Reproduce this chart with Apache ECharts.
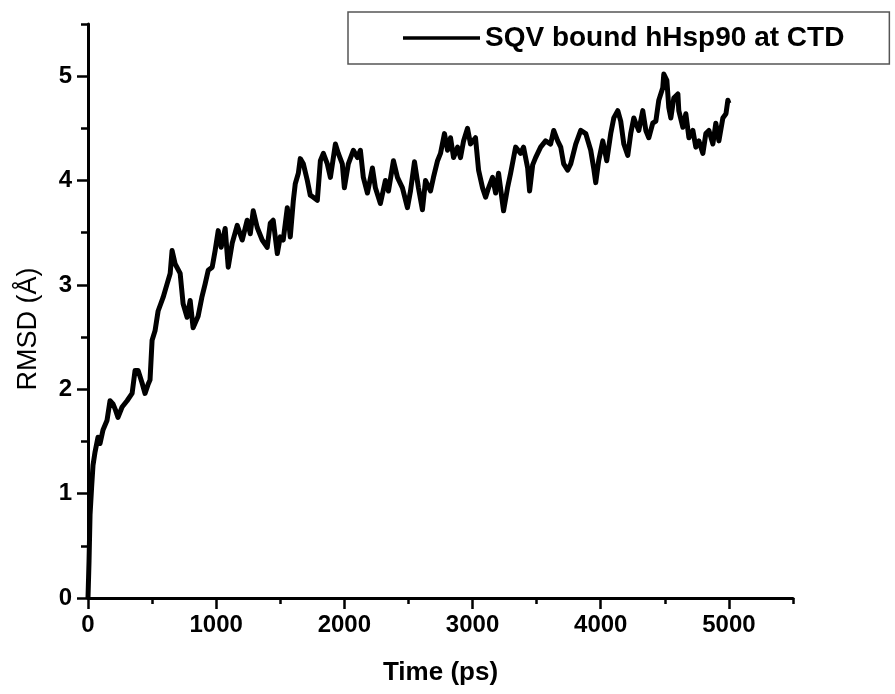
<!DOCTYPE html>
<html>
<head>
<meta charset="utf-8">
<title>RMSD of SQV bound hHsp90 at CTD</title>
<script src="https://cdn.jsdelivr.net/npm/echarts@6/dist/echarts.min.js"></script>
<style>
  html, body { margin: 0; padding: 0; background: #ffffff; }
  #chart { width: 895px; height: 694px; }
</style>
</head>
<body>
<div id="chart"></div>
<script>
// Simulation time (ps) of each sampled frame
const timePs = [
  0, 8, 16, 29, 39, 55, 78, 94, 117, 148, 172, 195, 215, 234, 266, 305, 344, 367, 391, 422,
  445, 470, 484, 500, 523, 547, 586, 617, 641, 656, 680, 719, 742, 773, 797, 820, 859, 888, 914, 938,
  969, 992, 1016, 1039, 1070, 1094, 1125, 1164, 1203, 1242, 1266, 1289, 1320, 1359, 1398, 1422, 1445, 1477, 1500, 1523,
  1555, 1578, 1602, 1617, 1641, 1656, 1680, 1711, 1734, 1758, 1789, 1813, 1836, 1867, 1891, 1930, 1953, 1984, 2000, 2031,
  2070, 2102, 2125, 2148, 2180, 2219, 2242, 2281, 2320, 2344, 2383, 2414, 2453, 2492, 2516, 2547, 2578, 2609, 2633, 2672,
  2695, 2727, 2750, 2781, 2805, 2828, 2852, 2883, 2906, 2930, 2961, 2984, 3023, 3047, 3078, 3102, 3125, 3156, 3180, 3203,
  3242, 3273, 3297, 3336, 3375, 3398, 3430, 3445, 3469, 3492, 3531, 3570, 3609, 3633, 3664, 3688, 3711, 3742, 3766, 3805,
  3844, 3883, 3922, 3945, 3961, 3984, 4016, 4047, 4078, 4102, 4133, 4156, 4180, 4211, 4234, 4258, 4273, 4297, 4328, 4352,
  4375, 4406, 4430, 4453, 4484, 4492, 4516, 4531, 4547, 4570, 4602, 4609, 4641, 4664, 4688, 4719, 4742, 4766, 4797, 4820,
  4844, 4875, 4898, 4922, 4953, 4977, 4992, 5000
];

// Backbone RMSD (Å) at each frame
const rmsd = [
  0.00, 0.35, 0.80, 1.08, 1.27, 1.40, 1.54, 1.48, 1.61, 1.70, 1.89, 1.86, 1.80, 1.73, 1.83, 1.89, 1.96, 2.18, 2.18, 2.06,
  1.96, 2.05, 2.09, 2.47, 2.56, 2.75, 2.88, 3.01, 3.11, 3.33, 3.20, 3.11, 2.82, 2.69, 2.85, 2.59, 2.70, 2.88, 3.01, 3.14,
  3.17, 3.33, 3.52, 3.36, 3.54, 3.17, 3.40, 3.57, 3.43, 3.62, 3.49, 3.71, 3.55, 3.43, 3.36, 3.59, 3.62, 3.30, 3.46, 3.43,
  3.74, 3.46, 3.81, 3.97, 4.07, 4.21, 4.16, 4.00, 3.86, 3.84, 3.81, 4.19, 4.26, 4.16, 4.03, 4.35, 4.26, 4.16, 3.93, 4.16,
  4.29, 4.22, 4.29, 4.03, 3.88, 4.12, 3.93, 3.78, 4.00, 3.90, 4.19, 4.03, 3.93, 3.74, 3.90, 4.18, 3.93, 3.72, 4.00, 3.90,
  4.03, 4.19, 4.26, 4.45, 4.29, 4.41, 4.22, 4.32, 4.22, 4.38, 4.50, 4.35, 4.41, 4.10, 3.93, 3.84, 3.93, 4.03, 3.88, 4.07,
  3.71, 3.93, 4.07, 4.32, 4.26, 4.32, 4.12, 3.90, 4.15, 4.22, 4.32, 4.38, 4.35, 4.48, 4.38, 4.32, 4.16, 4.10, 4.16, 4.35,
  4.48, 4.45, 4.29, 4.12, 3.98, 4.19, 4.38, 4.19, 4.45, 4.60, 4.67, 4.57, 4.35, 4.24, 4.45, 4.60, 4.55, 4.48, 4.67, 4.48,
  4.41, 4.55, 4.57, 4.77, 4.89, 5.02, 4.96, 4.70, 4.60, 4.79, 4.83, 4.67, 4.51, 4.64, 4.41, 4.48, 4.32, 4.38, 4.26, 4.45,
  4.48, 4.35, 4.55, 4.38, 4.60, 4.64, 4.77, 4.74
];

// Axis tick labels
const timeLabels = [0, 1000, 2000, 3000, 4000, 5000];
const rmsdLabels = [0, 1, 2, 3, 4, 5];

const seriesName = 'SQV bound hHsp90 at CTD';
const fontFamily = "Arial, 'Liberation Sans', Helvetica, sans-serif";

const chart = echarts.init(document.getElementById('chart'), null, { renderer: 'canvas' });

const axisLineStyle = { color: '#000', width: 3 };

chart.setOption({
  animation: false,
  backgroundColor: '#ffffff',
  grid: { left: 88, right: 102, top: 24, bottom: 96, containLabel: false },
  legend: {
    show: true,
    orient: 'horizontal',
    data: [seriesName],
    left: 348,
    top: 12,
    padding: [12, 45, 12, 55],
    borderColor: '#555',
    borderWidth: 1.5,
    icon: 'rect',
    itemWidth: 77,
    itemHeight: 3.5,
    itemGap: 10,
    selectedMode: false,
    itemStyle: { color: '#000', borderWidth: 0 },
    textStyle: { color: '#000', fontSize: 28, fontWeight: 'bold', fontFamily: fontFamily }
  },
  xAxis: [
    {
      // main time axis: line, half-step short ticks, labels every 1000 ps
      type: 'value',
      min: 0,
      max: 5500,
      interval: 500,
      name: 'Time (ps)',
      nameLocation: 'middle',
      nameGap: 62,
      nameTextStyle: { color: '#000', fontSize: 26, fontWeight: 'bold', fontFamily: fontFamily },
      axisLine: { show: true, onZero: false, lineStyle: axisLineStyle },
      axisTick: { show: true, length: 6, lineStyle: { color: '#000', width: 2.5 } },
      axisLabel: {
        show: true,
        margin: 15,
        color: '#000',
        fontSize: 24,
        fontWeight: 'bold',
        fontFamily: fontFamily,
        formatter: function (v) { return timeLabels.indexOf(v) >= 0 ? String(v) : ''; }
      },
      splitLine: { show: false }
    },
    {
      // overlay carrying the longer major ticks
      type: 'value',
      position: 'bottom',
      min: 0,
      max: 5500,
      interval: 1000,
      axisLine: { show: false, onZero: false },
      axisTick: { show: true, length: 11, customValues: timeLabels, lineStyle: { color: '#000', width: 2.5 } },
      axisLabel: { show: false },
      splitLine: { show: false }
    }
  ],
  yAxis: [
    {
      type: 'value',
      min: 0,
      max: 5.5,
      interval: 0.5,
      name: 'RMSD (Å)',
      nameLocation: 'middle',
      nameGap: 46,
      nameRotate: 90,
      nameTextStyle: { color: '#000', fontSize: 27, fontFamily: fontFamily, padding: [0, 36, 0, 0] },
      axisLine: { show: true, onZero: false, lineStyle: axisLineStyle },
      axisTick: { show: true, length: 7, lineStyle: { color: '#000', width: 2.5 } },
      axisLabel: {
        show: true,
        margin: 16,
        color: '#000',
        fontSize: 24,
        fontWeight: 'bold',
        fontFamily: fontFamily,
        formatter: function (v) {
          const r = Math.round(v);
          return (Math.abs(v - r) < 1e-6 && rmsdLabels.indexOf(r) >= 0) ? String(r) : '';
        }
      },
      splitLine: { show: false }
    },
    {
      type: 'value',
      position: 'left',
      min: 0,
      max: 5.5,
      interval: 1,
      axisLine: { show: false, onZero: false },
      axisTick: { show: true, length: 11, customValues: rmsdLabels, lineStyle: { color: '#000', width: 2.5 } },
      axisLabel: { show: false },
      splitLine: { show: false }
    }
  ],
  series: [
    {
      name: seriesName,
      type: 'line',
      xAxisIndex: 0,
      yAxisIndex: 0,
      symbol: 'none',
      showSymbol: false,
      smooth: false,
      clip: true,
      lineStyle: { color: '#000', width: 5, join: 'round' },
      itemStyle: { color: '#000' },
      data: timePs.map(function (t, i) { return [t, rmsd[i]]; })
    }
  ]
});
</script>
</body>
</html>
